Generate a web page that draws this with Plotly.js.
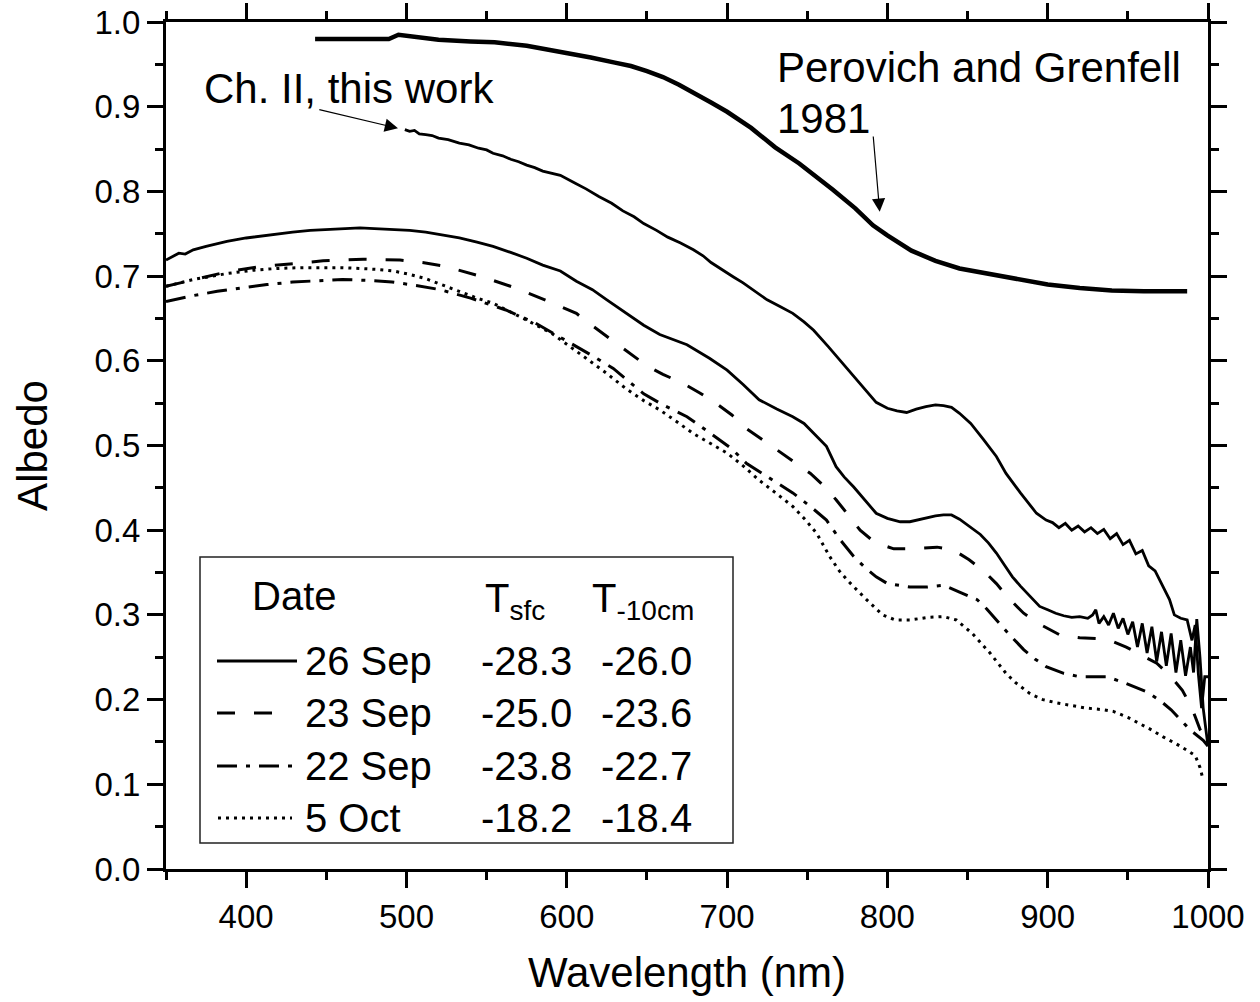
<!DOCTYPE html>
<html>
<head>
<meta charset="utf-8">
<script src="https://cdn.plot.ly/plotly-3.0.1.min.js"></script>
<style>
  html, body { margin: 0; padding: 0; background: #fff; }
  #chart { width: 1260px; height: 1002px; }
</style>
</head>
<body>
<div id="chart"></div>
<script>
// Spectral albedo of young sea ice, 350-1000 nm

// Perovich and Grenfell (1981)
const pgWavelength = [443, 450, 460, 470, 480, 489, 495, 504, 520, 540, 555, 575, 587, 600, 615, 630, 640, 650, 660, 670, 680, 690, 700, 715, 730, 745, 766, 780, 791, 800, 815, 830, 845, 860, 875, 900, 920, 940, 960, 987];
const pgAlbedo     = [0.980, 0.980, 0.980, 0.980, 0.980, 0.980, 0.985, 0.983, 0.979, 0.977, 0.976, 0.972, 0.968, 0.964, 0.958, 0.952, 0.948, 0.942, 0.935, 0.926, 0.916, 0.905, 0.894, 0.875, 0.852, 0.833, 0.802, 0.780, 0.760, 0.748, 0.730, 0.718, 0.709, 0.704, 0.699, 0.690, 0.686, 0.683, 0.682, 0.682];

// Ch. II, this work
const chWavelength = [499, 502, 505, 508, 512, 516, 520, 526, 533, 539, 545, 550, 554, 560, 565, 570, 575, 580, 585, 590, 596, 605, 612, 620, 628, 635, 642, 648, 656, 663, 671, 679, 685, 690, 697, 704, 710, 716, 720, 725, 733, 741, 748, 754, 763, 772, 783, 793, 800, 806, 812, 818, 824, 830, 835, 840, 845, 852, 860, 868, 874, 883, 893, 899, 903, 907, 911, 915, 919, 923, 927, 931, 935, 939, 943, 947, 951, 955, 959, 963, 967, 970, 973, 976, 979, 983, 987, 990, 992, 994, 996, 998, 1000];
const chAlbedo     = [0.873, 0.871, 0.872, 0.868, 0.867, 0.866, 0.863, 0.861, 0.857, 0.855, 0.851, 0.849, 0.845, 0.842, 0.838, 0.835, 0.831, 0.828, 0.824, 0.822, 0.819, 0.810, 0.803, 0.794, 0.786, 0.777, 0.770, 0.762, 0.754, 0.746, 0.739, 0.731, 0.724, 0.716, 0.708, 0.699, 0.692, 0.684, 0.679, 0.672, 0.664, 0.656, 0.646, 0.636, 0.617, 0.597, 0.573, 0.551, 0.544, 0.541, 0.539, 0.543, 0.546, 0.548, 0.547, 0.545, 0.538, 0.526, 0.507, 0.487, 0.467, 0.444, 0.420, 0.412, 0.409, 0.403, 0.408, 0.400, 0.405, 0.398, 0.403, 0.396, 0.401, 0.390, 0.396, 0.383, 0.388, 0.372, 0.376, 0.358, 0.352, 0.340, 0.330, 0.318, 0.300, 0.296, 0.294, 0.270, 0.288, 0.230, 0.190, 0.227, 0.227];

// 26 Sep
const sep26Wavelength = [350, 355, 358, 362, 367, 375, 388, 400, 408, 420, 429, 440, 450, 460, 471, 480, 491, 502, 512, 522, 533, 544, 554, 565, 575, 585, 596, 606, 616, 625, 637, 648, 658, 666, 675, 689, 700, 710, 720, 731, 741, 748, 754, 762, 768, 773, 779, 786, 793, 800, 808, 814, 819, 824, 830, 835, 840, 845, 851, 858, 863, 868, 873, 878, 883, 887, 891, 895, 900, 905, 910, 915, 920, 925, 928, 930, 932, 935, 938, 941, 944, 947, 950, 953, 956, 959, 962, 965, 968, 971, 974, 977, 980, 983, 986, 989, 991, 993, 995, 997, 999, 1000];
const sep26Albedo     = [0.719, 0.724, 0.727, 0.726, 0.731, 0.735, 0.741, 0.745, 0.747, 0.750, 0.752, 0.754, 0.755, 0.756, 0.757, 0.756, 0.755, 0.754, 0.752, 0.749, 0.745, 0.740, 0.735, 0.728, 0.721, 0.713, 0.706, 0.694, 0.684, 0.672, 0.656, 0.642, 0.631, 0.625, 0.619, 0.603, 0.589, 0.572, 0.554, 0.543, 0.534, 0.526, 0.514, 0.499, 0.475, 0.463, 0.451, 0.436, 0.420, 0.414, 0.410, 0.410, 0.412, 0.414, 0.417, 0.418, 0.418, 0.413, 0.405, 0.395, 0.385, 0.373, 0.359, 0.345, 0.334, 0.326, 0.318, 0.310, 0.306, 0.302, 0.299, 0.297, 0.298, 0.296, 0.300, 0.306, 0.290, 0.298, 0.288, 0.302, 0.284, 0.296, 0.277, 0.292, 0.262, 0.290, 0.255, 0.286, 0.245, 0.280, 0.240, 0.278, 0.232, 0.270, 0.228, 0.262, 0.232, 0.295, 0.250, 0.190, 0.160, 0.145];

// 23 Sep
const sep23Wavelength = [350, 367, 388, 408, 425, 448, 473, 496, 510, 523, 546, 568, 590, 606, 612, 631, 650, 660, 673, 683, 693, 703, 712, 722, 731, 741, 752, 760, 768, 776, 783, 790, 796, 804, 815, 831, 841, 851, 860, 868, 876, 885, 896, 908, 920, 931, 940, 949, 958, 968, 976, 984, 990, 995, 1000];
const sep23Albedo     = [0.688, 0.696, 0.705, 0.711, 0.714, 0.718, 0.720, 0.719, 0.716, 0.712, 0.700, 0.686, 0.669, 0.656, 0.647, 0.621, 0.594, 0.584, 0.573, 0.562, 0.550, 0.536, 0.520, 0.507, 0.495, 0.481, 0.467, 0.453, 0.436, 0.417, 0.400, 0.389, 0.383, 0.378, 0.378, 0.380, 0.377, 0.365, 0.352, 0.337, 0.319, 0.302, 0.288, 0.276, 0.273, 0.272, 0.269, 0.262, 0.253, 0.243, 0.229, 0.211, 0.190, 0.165, 0.150];

// 22 Sep
const sep22Wavelength = [350, 367, 382, 398, 413, 429, 445, 460, 475, 491, 506, 521, 540, 562, 580, 596, 616, 629, 648, 660, 675, 684, 693, 703, 712, 725, 741, 752, 762, 770, 779, 786, 793, 800, 814, 825, 835, 845, 856, 862, 868, 876, 885, 892, 899, 910, 920, 937, 949, 962, 970, 977, 989, 997, 1000];
const sep22Albedo     = [0.670, 0.677, 0.682, 0.686, 0.690, 0.693, 0.695, 0.696, 0.695, 0.693, 0.689, 0.684, 0.674, 0.660, 0.645, 0.628, 0.606, 0.591, 0.561, 0.548, 0.534, 0.522, 0.510, 0.496, 0.479, 0.463, 0.444, 0.428, 0.412, 0.390, 0.369, 0.356, 0.345, 0.337, 0.333, 0.333, 0.335, 0.327, 0.318, 0.307, 0.294, 0.277, 0.259, 0.248, 0.239, 0.231, 0.227, 0.227, 0.219, 0.209, 0.199, 0.188, 0.164, 0.152, 0.145];

// 5 Oct
const oct5Wavelength = [350, 367, 388, 405, 419, 435, 450, 460, 471, 481, 492, 502, 512, 522, 533, 544, 554, 565, 575, 591, 600, 612, 625, 637, 648, 658, 668, 679, 690, 700, 710, 720, 731, 741, 749, 756, 764, 770, 775, 781, 787, 797, 805, 814, 825, 835, 843, 853, 859, 864, 874, 880, 889, 897, 906, 915, 924, 935, 941, 950, 957, 965, 972, 980, 987, 992, 995, 997];
const oct5Albedo     = [0.688, 0.696, 0.703, 0.707, 0.709, 0.710, 0.710, 0.710, 0.709, 0.708, 0.706, 0.702, 0.697, 0.690, 0.682, 0.674, 0.668, 0.658, 0.648, 0.632, 0.620, 0.603, 0.585, 0.567, 0.553, 0.542, 0.529, 0.514, 0.502, 0.491, 0.476, 0.459, 0.443, 0.428, 0.412, 0.396, 0.369, 0.352, 0.341, 0.329, 0.318, 0.300, 0.294, 0.294, 0.297, 0.298, 0.294, 0.278, 0.266, 0.255, 0.231, 0.220, 0.207, 0.200, 0.196, 0.193, 0.190, 0.188, 0.186, 0.179, 0.172, 0.164, 0.156, 0.148, 0.140, 0.134, 0.120, 0.105];

// Legend table
const legendDates = ['26 Sep', '23 Sep', '22 Sep', '5 Oct'];
const legendTsfc  = ['-28.3', '-25.0', '-23.8', '-18.2'];
const legendT10   = ['-26.0', '-23.6', '-22.7', '-18.4'];

const FONT = 'Liberation Sans, Arial, Helvetica, sans-serif';
const dashSolid   = 'solid';
const dashDashed  = '18px,19px';
const dashDashDot = '20px,9px,4px,9px';
const dashDotted  = '3px,5px';

const traces = [
  { x: pgWavelength, y: pgAlbedo, line: { color: '#000', width: 4.5, dash: dashSolid } },
  { x: chWavelength, y: chAlbedo, line: { color: '#000', width: 2.8, dash: dashSolid } },
  { x: sep26Wavelength, y: sep26Albedo, line: { color: '#000', width: 2.8, dash: dashSolid } },
  { x: sep23Wavelength, y: sep23Albedo, line: { color: '#000', width: 3, dash: dashDashed } },
  { x: sep22Wavelength, y: sep22Albedo, line: { color: '#000', width: 3, dash: dashDashDot } },
  { x: oct5Wavelength, y: oct5Albedo, line: { color: '#000', width: 3, dash: dashDotted } }
].map(t => Object.assign({ type: 'scatter', mode: 'lines', showlegend: false, hoverinfo: 'skip' }, t));

// Plot-area pixel helpers for the legend table
const PLOT_L = 166, PLOT_R = 1208, PLOT_T = 22, PLOT_B = 869;
const px = v => (v - PLOT_L) / (PLOT_R - PLOT_L);
const py = v => (PLOT_B - v) / (PLOT_B - PLOT_T);

const shapes = [{
  type: 'rect', xref: 'paper', yref: 'paper',
  x0: px(200), x1: px(733), y0: py(843), y1: py(557),
  line: { color: '#222', width: 1.5 }, fillcolor: '#fff', layer: 'below'
}];

const rowY = [661, 713, 766, 818];
const sampleDash = [dashSolid, dashDashed, dashDashDot, dashDotted];
const sampleEnds = [[217, 297], [217, 282], [217, 294], [218, 292]];

const annotations = [];
const txt = (text, x, y, size, xanchor) => ({
  text, xref: 'paper', yref: 'paper', x, y, xanchor: xanchor || 'left', yanchor: 'middle',
  showarrow: false, font: { family: FONT, size, color: '#000' }
});

annotations.push(txt('Date', px(250), py(596), 40));
annotations.push(txt('T<sub>sfc</sub>', px(483), py(601), 40));
annotations.push(txt('T<sub>-10cm</sub>', px(590), py(601), 40));

legendDates.forEach((d, i) => {
  shapes.push({
    type: 'line', xref: 'paper', yref: 'paper',
    x0: px(sampleEnds[i][0]), x1: px(sampleEnds[i][1]), y0: py(rowY[i]), y1: py(rowY[i]),
    line: { color: '#000', width: 3.2, dash: sampleDash[i] }
  });
  annotations.push(txt(d, px(303), py(rowY[i]), 40));
  annotations.push(txt(legendTsfc[i], px(574), py(rowY[i]), 40, 'right'));
  annotations.push(txt(legendT10[i], px(694), py(rowY[i]), 40, 'right'));
});

// Curve labels
annotations.push(txt('Ch. II, this work', px(202), py(88), 42));
annotations.push(txt('Perovich and Grenfell', px(775), py(68), 42));
annotations.push(txt('1981', px(775), py(119), 42));

const arrow = (x, y, ax, ay) => ({
  text: '', xref: 'x', yref: 'y', axref: 'x', ayref: 'y', x, y, ax, ay,
  showarrow: true, arrowhead: 2, arrowsize: 2.2, arrowwidth: 1.2, arrowcolor: '#000', standoff: 0, startstandoff: 0
});
annotations.push(arrow(494.7, 0.8745, 444.7, 0.897));
annotations.push(arrow(795.2, 0.776, 791.1, 0.8666));

const axisCommon = {
  showline: true, linewidth: 3, linecolor: '#000', mirror: 'allticks',
  ticks: 'outside', ticklen: 16, tickwidth: 3, tickcolor: '#000',
  showgrid: false, zeroline: false,
  tickfont: { family: FONT, size: 33, color: '#000' }
};

const layout = {
  width: 1260, height: 1002,
  margin: { l: PLOT_L, r: 1260 - PLOT_R, t: PLOT_T, b: 1002 - PLOT_B, pad: 0 },
  paper_bgcolor: '#fff', plot_bgcolor: '#fff',
  font: { family: FONT, color: '#000' },
  xaxis: Object.assign({}, axisCommon, {
    range: [350, 1000], tick0: 0, dtick: 100,
    minor: { ticks: 'outside', ticklen: 8, tickwidth: 3, tickcolor: '#000', dtick: 50, tick0: 0 },
    title: { text: 'Wavelength (nm)', font: { family: FONT, size: 42, color: '#000' }, standoff: 25 }
  }),
  yaxis: Object.assign({}, axisCommon, {
    range: [0, 1], tick0: 0, dtick: 0.1, tickformat: '.1f',
    minor: { ticks: 'outside', ticklen: 8, tickwidth: 3, tickcolor: '#000', dtick: 0.05, tick0: 0 },
    title: { text: 'Albedo', font: { family: FONT, size: 42, color: '#000' }, standoff: 34 }
  }),
  shapes, annotations
};

Plotly.newPlot('chart', traces, layout, { displayModeBar: false, staticPlot: true });
</script>
</body>
</html>
